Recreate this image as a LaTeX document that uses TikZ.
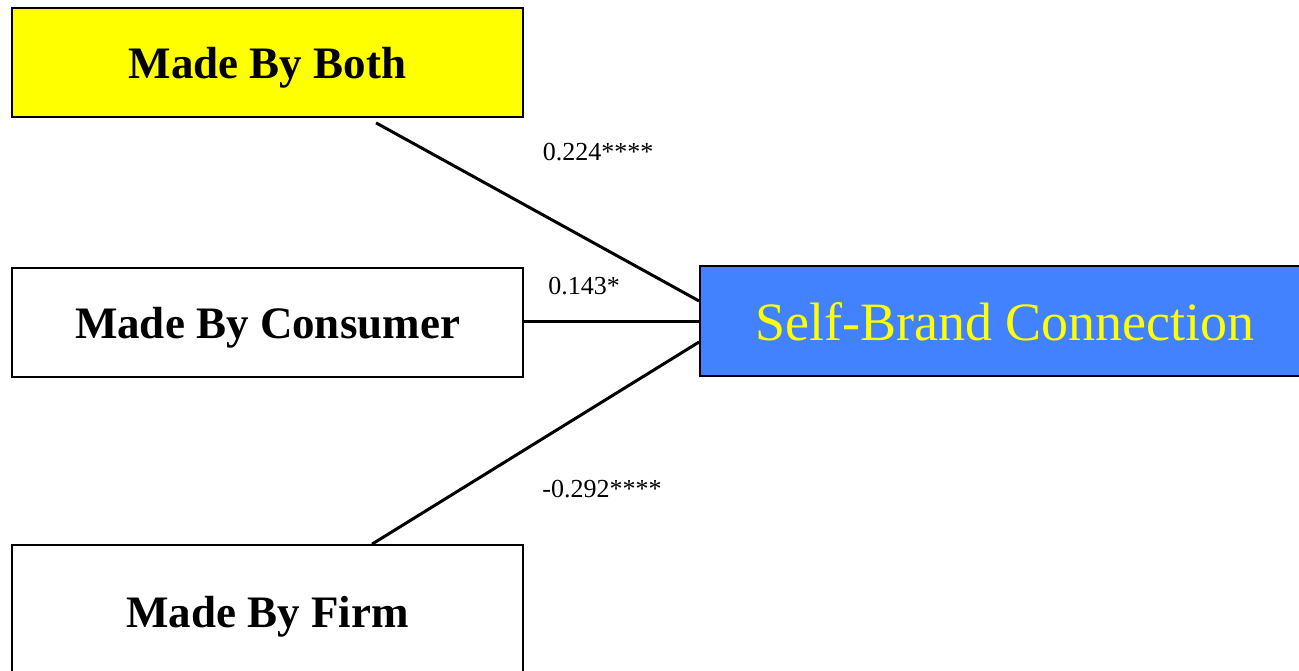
\documentclass[tikz,border=0pt]{standalone}
\usepackage{fontspec}
\setmainfont{Liberation Serif}
\usetikzlibrary{calc}
\definecolor{bothfill}{RGB}{255,255,0}
\definecolor{sbcfill}{RGB}{66,130,255}
\definecolor{sbctext}{RGB}{255,255,0}
\begin{document}
\begin{tikzpicture}[x=1pt,y=-1pt,
  factor/.style={draw=black, line width=1.8pt, minimum width=511pt, minimum height=109pt,
    inner sep=0pt, text depth=0pt, font=\fontsize{45}{50}\selectfont\bfseries},
  outcome/.style={draw=black, line width=1.8pt, minimum width=610pt, minimum height=110pt,
    inner sep=0pt, text depth=0pt, fill=sbcfill, text=sbctext, font=\fontsize{54}{60}\selectfont},
  link/.style={line width=3pt},
  coef/.style={inner sep=0pt, font=\fontsize{26}{30}\selectfont}
]
\clip (0,0) rectangle (1299,671);
\fill[white] (0,0) rectangle (1299,671);

% predictor boxes
\node[factor, fill=bothfill] (both) at (267.5,62.5) {Made By Both};
\node[factor, line width=1.3pt] (consumer) at (267.5,322.5) {Made By Consumer};
\node[factor, minimum height=134pt] (firm) at (267.5,612) {Made By Firm};

% outcome box
\node[outcome] (sbc) at (1005,321) {Self-Brand Connection};

% path anchors
\coordinate (bothout) at ($(both.south west)+(365,5)$);
\coordinate (firmout) at ($(firm.north west)+(361,0)$);
\coordinate (sbcup) at ($(sbc.west)+(0,-20)$);
\coordinate (sbclow) at ($(sbc.west)+(0,21)$);

% paths
\draw[link] (bothout) -- (sbcup);
\draw[link] (consumer.east |- sbc.west) -- (sbc.west);
\draw[link] (firmout) -- (sbclow);

% path coefficients
\node[coef] (c1) at (598,152) {0.224****};
\node[coef] (c2) at (584,286) {0.143*};
\node[coef] (c3) at (602,489) {-0.292****};
\end{tikzpicture}
\end{document}
